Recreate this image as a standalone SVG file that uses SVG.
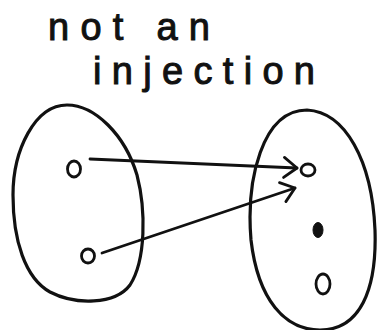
<svg xmlns="http://www.w3.org/2000/svg" width="379" height="330" viewBox="0 0 379 330">
<style>
.set{fill:none;stroke:#111;stroke-width:3.2;stroke-linecap:round;stroke-linejoin:round}
.pt{fill:none;stroke:#111;stroke-width:2.8}
.dot{fill:#111;stroke:#111;stroke-width:1}
.edge{fill:none;stroke:#111;stroke-width:2.8;stroke-linecap:round}
.lbl{font-family:"Liberation Sans","DejaVu Sans",sans-serif;font-size:38px;fill:#111;stroke:#111;stroke-width:1}
</style>
<defs>
<marker id="arr" markerUnits="userSpaceOnUse" markerWidth="20" markerHeight="26" refX="15" refY="12" orient="auto" viewBox="0 0 20 26">
<path d="M2,2 L15,12 L2,22" fill="none" stroke="#111" stroke-width="2.8" stroke-linecap="round" stroke-linejoin="round"/>
</marker>
</defs>
<rect width="379" height="330" fill="#fff"/>
<g id="title">
<text class="lbl" x="48" y="40" textLength="162" lengthAdjust="spacing">not an</text>
<text class="lbl" x="93" y="84" textLength="222" lengthAdjust="spacing">injection</text>
</g>
<g id="domain">
<path class="set" d="M67,105 C95,105 125,135 137,175 C146,210 146,260 130,285 C115,305 75,305 50,292 C25,278 13,240 13,195 C13,150 35,105 67,105 Z"/>
</g>
<g id="codomain">
<path class="set" d="M307,110 C345,112 372,160 375,230 C377,290 360,330 320,330 C285,330 258,300 251,240 C246,180 262,110 307,110 Z"/>
</g>
<g id="a1"><ellipse class="pt" cx="74" cy="169" rx="6.5" ry="8"/></g>
<g id="a2"><ellipse class="pt" cx="88" cy="256" rx="6.5" ry="7"/></g>
<g id="b1"><ellipse class="pt" cx="308" cy="170" rx="7" ry="6"/></g>
<g id="b2"><ellipse class="dot" cx="318" cy="230" rx="5" ry="7.5"/></g>
<g id="b3"><ellipse class="pt" cx="323" cy="284" rx="7" ry="10"/></g>
<g id="connectors">
<path class="edge" d="M90,159 L297,168" marker-end="url(#arr)"/>
<path class="edge" d="M102,253 L295,188" marker-end="url(#arr)"/>
</g>
</svg>
